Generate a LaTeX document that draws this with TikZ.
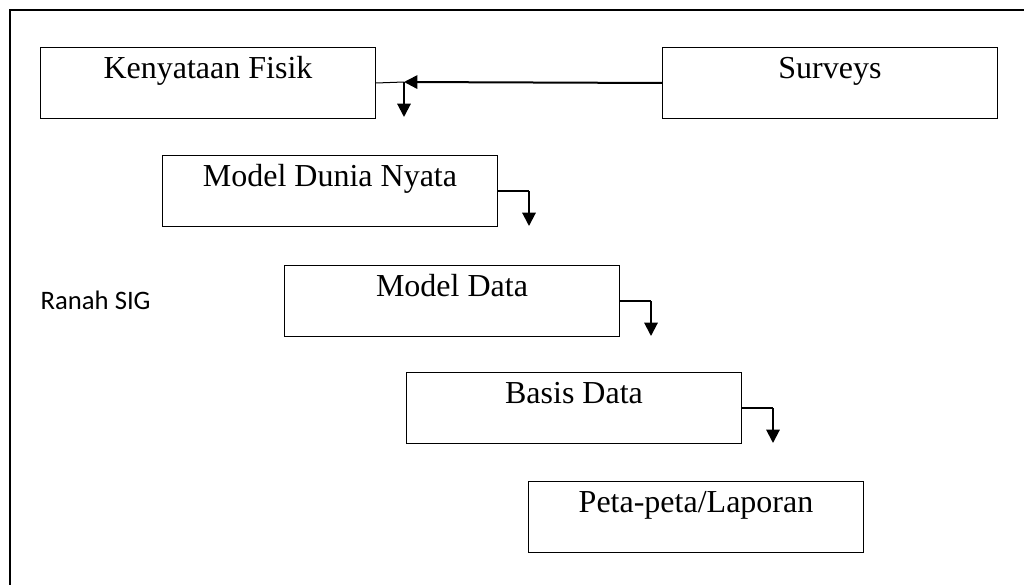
\documentclass[tikz,border=0pt]{standalone}
\usepackage{fontspec}
\setmainfont{Liberation Serif}
\newfontfamily\calibri{Carlito}
\usetikzlibrary{arrows.meta}

\begin{document}
\begin{tikzpicture}[
  x=0.75pt, y=-0.75pt,
  box/.style={draw, line width=1pt, anchor=north west, inner sep=0pt,
              minimum width=251pt, text height=23pt, text depth=30pt,
              font=\fontsize{24}{28}\selectfont},
  flow/.style={line width=1.5pt, -{Triangle[length=10pt, width=10pt]}},
  link/.style={line width=1pt},
]
  \useasboundingbox (0,0) rectangle (1024,585);
  % outer frame, only top and left edges show
  \draw[line width=1.7pt] (10,600) |- (1040,10);

  \node[box] (fisik)  at (40,47)   {Kenyataan Fisik};
  \node[box] (survey) at (662,47)  {Surveys};
  \node[box] (dunia)  at (162,155) {Model Dunia Nyata};
  \node[box] (mdata)  at (284,265) {Model Data};
  \node[box] (basis)  at (406,372) {Basis Data};
  \node[box] (peta)   at (528,481) {Peta-peta/Laporan};

  \node[font={\calibri\fontsize{20}{24}\selectfont}, anchor=west] (ranah) at (36,300) {Ranah SIG};

  \coordinate (tee) at (404,82);
  \draw[flow] (survey.west) -- (tee);
  \draw[line width=0.75pt] (fisik.east) -- (tee);
  \draw[flow] (tee) -- ++(0,35);

  \draw[link] (dunia.east) -- ++(31,0) edge[flow] ++(0,35);
  \draw[link] (mdata.east) -- ++(31,0) edge[flow] ++(0,35);
  \draw[link] (basis.east) -- ++(31,0) edge[flow] ++(0,35);
\end{tikzpicture}
\end{document}
